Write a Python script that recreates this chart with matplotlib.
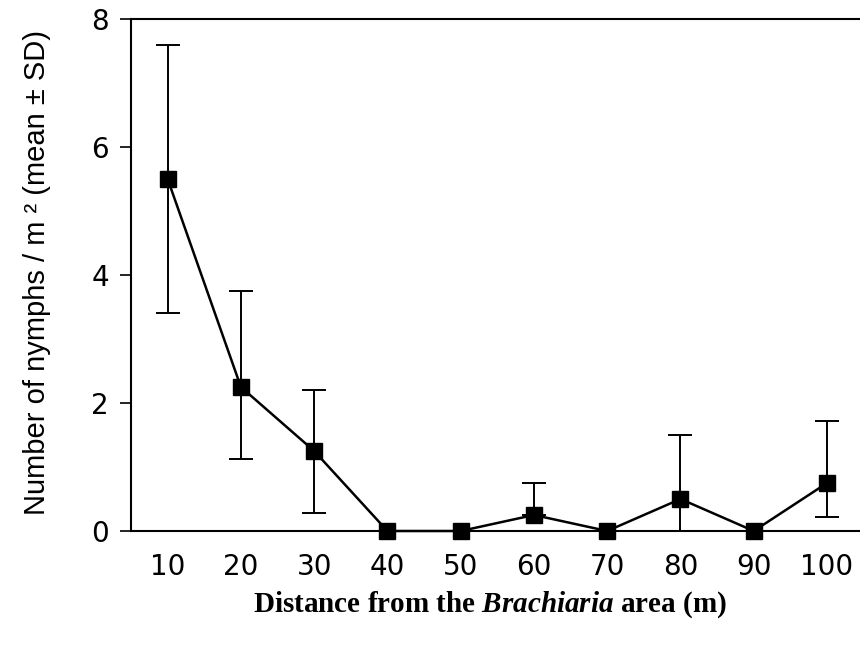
import numpy as np
import matplotlib.pyplot as plt

# Nymph density vs distance from the Brachiaria area
distance = [10, 20, 30, 40, 50, 60, 70, 80, 90, 100]
mean_nymphs = [5.5, 2.25, 1.25, 0.0, 0.0, 0.25, 0.0, 0.5, 0.0, 0.75]
sd_upper = [2.1, 1.5, 0.95, 0.0, 0.0, 0.5, 0.0, 1.0, 0.0, 0.97]
sd_lower = [2.1, 1.12, 0.97, 0.0, 0.0, 0.0, 0.0, 0.5, 0.0, 0.53]
y_ticks = [0, 2, 4, 6, 8]

plt.rcParams["mathtext.fontset"] = "custom"
plt.rcParams["mathtext.it"] = "Liberation Serif:italic:bold"

fig = plt.figure(figsize=(8.6, 6.48), dpi=100)
ax = fig.add_axes([131 / 860, 1 - 531 / 648, 1 - 131 / 860, 512 / 648])

ax.errorbar(distance, mean_nymphs, yerr=[sd_lower, sd_upper],
            fmt="none", ecolor="black", elinewidth=1.4, capsize=8.5,
            capthick=1.4, zorder=2)
ax.plot(distance, mean_nymphs, color="black", linewidth=1.8,
        marker="s", markersize=12, zorder=3, clip_on=False)

ax.set_xlim(5, 104.5)
ax.set_ylim(0, 8)
ax.set_xticks(distance)
ax.set_yticks(y_ticks)
ax.tick_params(axis="x", length=0, pad=16, labelsize=20)
ax.tick_params(axis="y", length=8, width=1.2, pad=8, labelsize=20)
for lab in ax.get_xticklabels() + ax.get_yticklabels():
    lab.set_family("DejaVu Sans")
    lab.set_weight("medium")

ax.spines["right"].set_visible(False)
for s in ["left", "top", "bottom"]:
    ax.spines[s].set_linewidth(1.5)

ax.set_ylabel("Number of nymphs / m \u00b2 (mean \u00b1 SD)",
              family="Liberation Sans", fontsize=21)
ax.yaxis.set_label_coords(-0.11, 0.505)
fig.text(0.57, 1 - 605 / 648,
         "Distance from the $\\mathit{Brachiaria}$ area (m)",
         ha="center", va="center", fontsize=21,
         family="Liberation Serif", weight="bold")

plt.savefig("out.png", dpi=100)
